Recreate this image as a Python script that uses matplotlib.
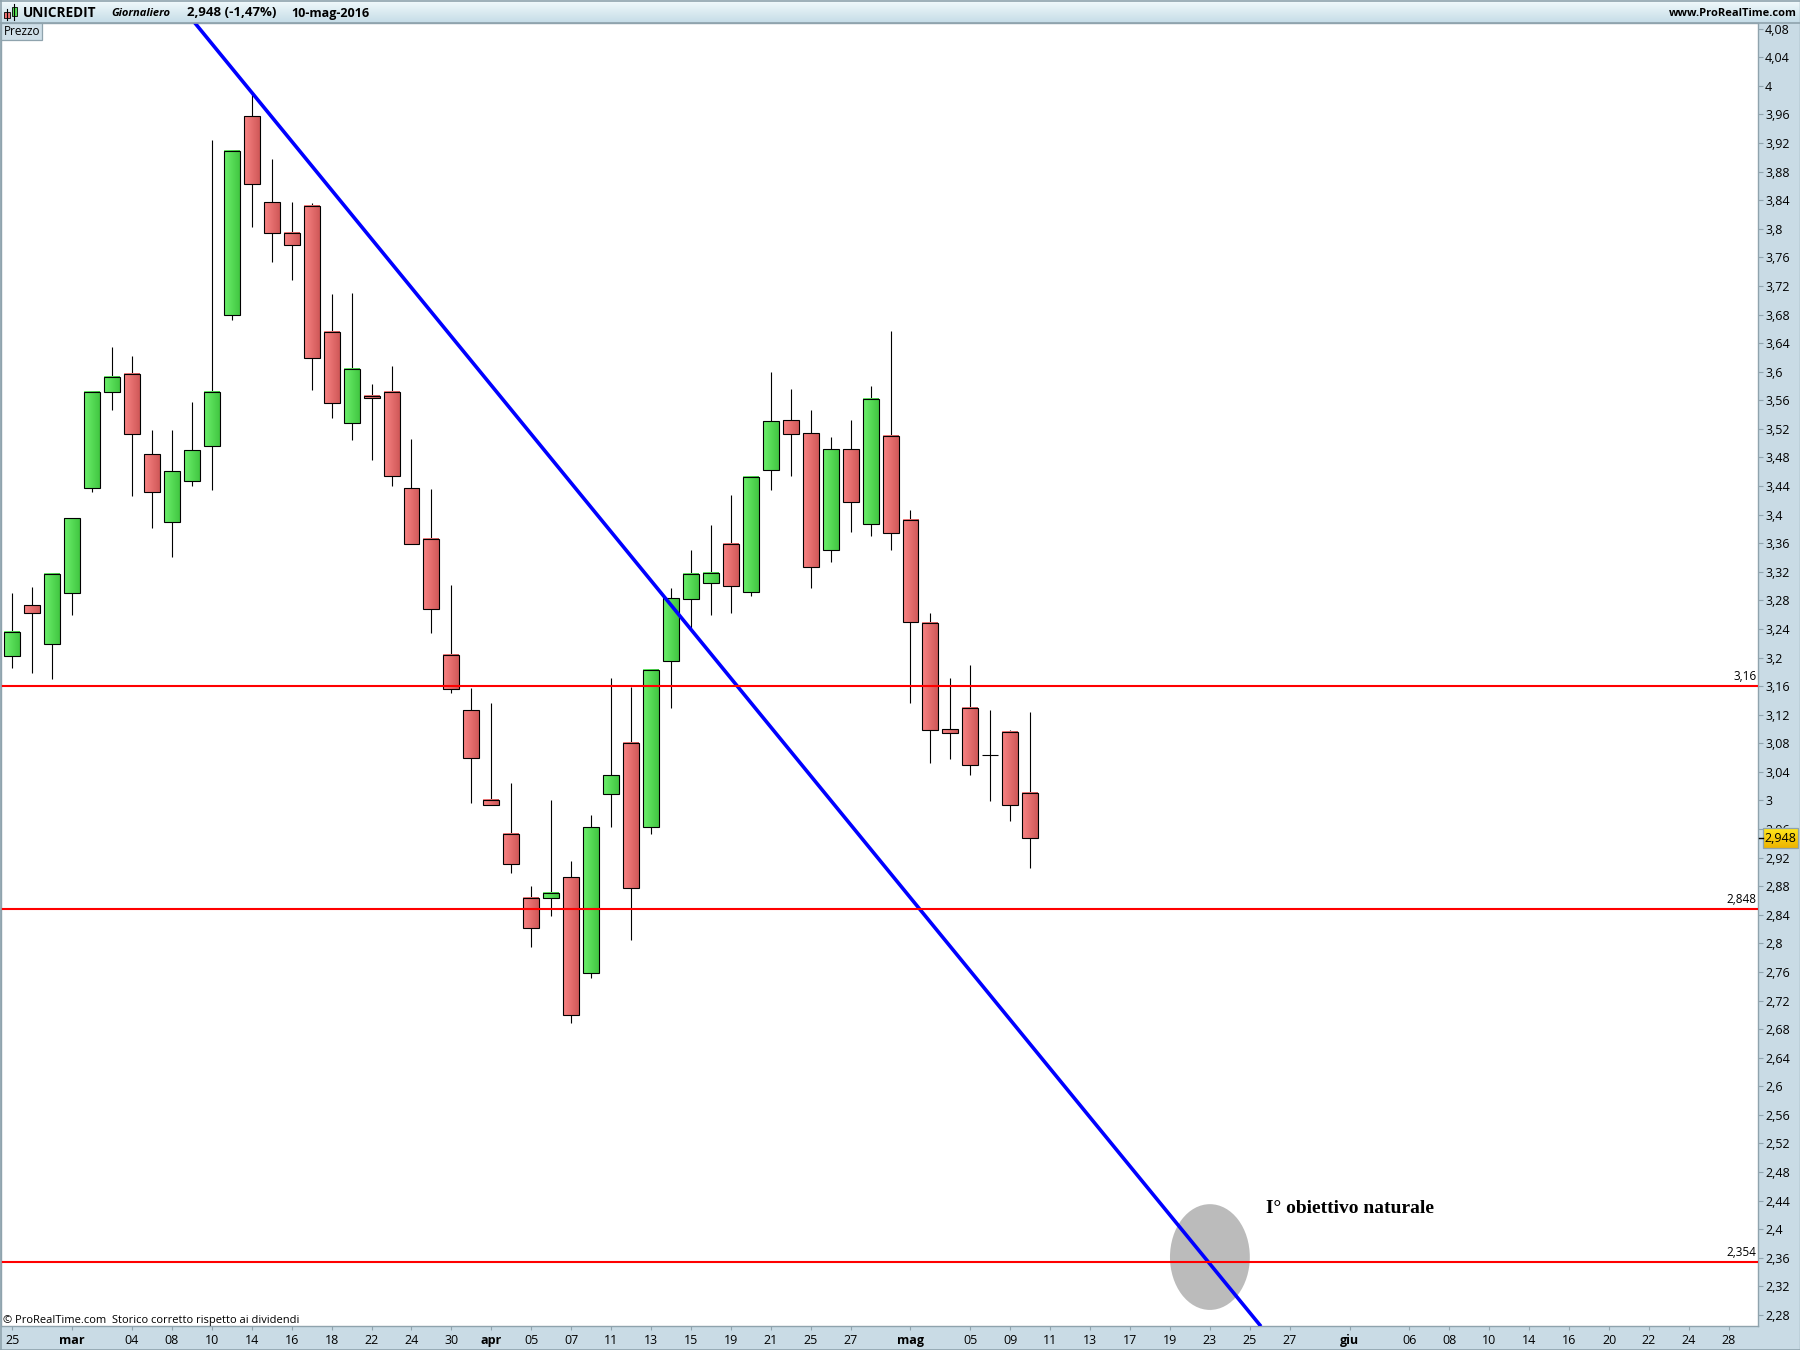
import numpy as np
from matplotlib import pyplot as plt
from matplotlib.patches import Ellipse, Rectangle

plt.rcParams['font.family'] = ['Open Sans', 'DejaVu Sans']

# daily candles (25 feb - 10 mag 2016)
opens = [3.202, 3.274, 3.219, 3.291, 3.437, 3.572, 3.597, 3.485, 3.390, 3.447,
         3.496, 3.679, 3.958, 3.837, 3.794, 3.832, 3.656, 3.528, 3.566, 3.572,
         3.437, 3.366, 3.204, 3.127, 3.001, 2.953, 2.864, 2.864, 2.893, 2.759,
         3.009, 3.081, 2.963, 3.195, 3.282, 3.304, 3.359, 3.292, 3.463, 3.532,
         3.514, 3.351, 3.492, 3.387, 3.510, 3.393, 3.249, 3.100, 3.130, 3.064,
         3.096, 3.011]
highs = [3.290, 3.299, 3.318, 3.395, 3.572, 3.635, 3.622, 3.519, 3.519, 3.557,
         3.924, 3.909, 3.989, 3.898, 3.838, 3.836, 3.709, 3.710, 3.583, 3.608,
         3.506, 3.436, 3.301, 3.157, 3.137, 3.025, 2.880, 3.000, 2.915, 2.980,
         3.172, 3.159, 3.183, 3.298, 3.351, 3.385, 3.427, 3.453, 3.599, 3.576,
         3.547, 3.509, 3.533, 3.580, 3.657, 3.407, 3.263, 3.171, 3.189, 3.127,
         3.099, 3.124]
lows = [3.185, 3.178, 3.170, 3.259, 3.431, 3.547, 3.426, 3.381, 3.340, 3.440,
        3.435, 3.672, 3.802, 3.754, 3.728, 3.575, 3.535, 3.505, 3.476, 3.440,
        3.359, 3.235, 3.151, 2.997, 2.993, 2.898, 2.795, 2.838, 2.689, 2.751,
        2.963, 2.805, 2.953, 3.129, 3.241, 3.259, 3.262, 3.286, 3.434, 3.454,
        3.298, 3.333, 3.375, 3.370, 3.351, 3.136, 3.052, 3.058, 3.035, 2.999,
        2.971, 2.905]
closes = [3.236, 3.263, 3.317, 3.395, 3.572, 3.593, 3.513, 3.432, 3.461, 3.490,
          3.572, 3.909, 3.863, 3.794, 3.777, 3.619, 3.556, 3.604, 3.563, 3.454,
          3.359, 3.268, 3.156, 3.060, 2.993, 2.911, 2.822, 2.871, 2.700, 2.963,
          3.035, 2.878, 3.183, 3.283, 3.317, 3.318, 3.300, 3.453, 3.531, 3.513,
          3.327, 3.492, 3.418, 3.562, 3.374, 3.250, 3.099, 3.095, 3.050, 3.064,
          2.993, 2.948]

levels = [3.16, 2.848, 2.354]
level_labels = ['3,16', '2,848', '2,354']
trend_x = [9.15, 62.5]
trend_y = [4.088, 2.266]
target_x = 60.0
target_y = 2.361

y_ticks = [4.08, 4.04, 4.0, 3.96, 3.92, 3.88, 3.84, 3.8, 3.76, 3.72, 3.68, 3.64, 3.6,
           3.56, 3.52, 3.48, 3.44, 3.4, 3.36, 3.32, 3.28, 3.24, 3.2, 3.16, 3.12, 3.08,
           3.04, 3.0, 2.96, 2.92, 2.88, 2.84, 2.8, 2.76, 2.72, 2.68, 2.64, 2.6, 2.56,
           2.52, 2.48, 2.44, 2.4, 2.36, 2.32, 2.28]
x_ticks = [0, 3, 6, 8, 10, 12, 14, 16, 18, 20, 22, 24, 26, 28, 30, 32, 34, 36, 38, 40, 42,
           45, 48, 50, 52, 54, 56, 58, 60, 62, 64, 67, 70, 72, 74, 76, 78, 80, 82, 84, 86]
x_labels = ['25', 'mar', '04', '08', '10', '14', '16', '18', '22', '24', '30', 'apr',
            '05', '07', '11', '13', '15', '19', '21', '25', '27', 'mag', '05', '09',
            '11', '13', '17', '19', '23', '25', '27', 'giu', '06', '08', '10', '14',
            '16', '20', '22', '24', '28']
months = ['mar', 'apr', 'mag', 'giu']

PANEL = '#c9dbe5'
BORDER = '#8fa3ad'


def gradient(left, right):
    """One row RGB image going from left colour to right colour"""
    left = np.array(plt.matplotlib.colors.to_rgb(left))
    right = np.array(plt.matplotlib.colors.to_rgb(right))
    t = np.linspace(0, 1, 32)[:, None]
    return (left + (right - left) * t)[None, :, :]


green_grad = gradient('#6cf16c', '#42c642')
red_grad = gradient('#f98484', '#d05858')

fig = plt.figure(figsize=(18, 13.5), dpi=100, facecolor=PANEL)
ax = fig.add_axes([1 / 1800, 24 / 1350, 1757 / 1800, 1303 / 1350])

x = np.arange(len(opens))
o = np.array(opens)
c = np.array(closes)
body_low = np.minimum(o, c)
body_high = np.maximum(o, c)
width = 0.8

ax.vlines(x, lows, highs, color='k', lw=0.8, zorder=2)
# gradient fill first, then the black outline from the same bars
for i in x:
    if body_high[i] > body_low[i]:
        img = green_grad if c[i] > o[i] else red_grad
        ax.imshow(img, extent=[i - width / 2, i + width / 2, body_low[i], body_high[i]],
                  aspect='auto', interpolation='bilinear', zorder=3)
ax.bar(x, body_high - body_low, bottom=body_low, width=width, fill=False,
       edgecolor='k', lw=0.8, zorder=4)

ax.add_patch(Ellipse((target_x, target_y), 4.0, 0.148, facecolor='#bbbbbb',
                     edgecolor='none', zorder=1))
ax.plot(trend_x, trend_y, color='#0000ff', lw=2.6, zorder=5)
for level, label in zip(levels, level_labels):
    ax.axhline(level, color='#ff0000', lw=1.5, zorder=6)
    ax.annotate(label, (1, level), xycoords=('axes fraction', 'data'), xytext=(-1, 2),
                textcoords='offset points', ha='right', va='bottom', fontsize=8.5)
ax.text(62.8, 2.429, 'I° obiettivo naturale', family='Liberation Serif', weight='bold',
        fontsize=14, va='center', ha='left', zorder=7)

ax.set_xlim(-0.566, 87.46)
ax.set_ylim(2.2645, 4.088)
ax.yaxis.tick_right()
ax.set_yticks(y_ticks)
ax.set_yticklabels([('%g' % t).replace('.', ',') for t in y_ticks], fontsize=9)
ax.set_xticks(x_ticks)
ax.set_xticklabels(x_labels, fontsize=9)
for tick_label in ax.get_xticklabels():
    if tick_label.get_text() in months:
        tick_label.set_fontweight('bold')
ax.tick_params(axis='y', length=3.6, width=0.8, color=BORDER, pad=1.5)
ax.tick_params(axis='x', length=3, width=0.8, color=BORDER, pad=2.5)
for spine in ax.spines.values():
    spine.set_color(BORDER)
    spine.set_linewidth(1.0)

# everything around the chart is placed in pixels on an overlay
ov = fig.add_axes([0, 0, 1, 1], zorder=10)
ov.set_xlim(0, 1800)
ov.set_ylim(1350, 0)
ov.axis('off')

header = np.linspace(0, 1, 23)[:, None, None] * (np.array([0.78, 0.87, 0.91]) - np.array([0.95, 0.98, 0.99])) \
    + np.array([0.95, 0.98, 0.99])
ov.imshow(header, extent=[0, 1800, 22, 0], aspect='auto', interpolation='bilinear')
ov.plot([0, 1800], [22.5, 22.5], color=BORDER, lw=1.2)
ov.plot([0, 1800], [0.5, 0.5], color=BORDER, lw=1.2)
ov.plot([0.8, 0.8], [0, 1350], color=BORDER, lw=1.2)
ov.plot([1799.5, 1799.5], [0, 1350], color=BORDER, lw=1.0)
ov.plot([0, 1800], [1349.5, 1349.5], color=BORDER, lw=1.2)

# little candle icon in the title bar
ov.plot([7, 7], [9, 20], color='k', lw=0.8)
ov.add_patch(Rectangle((4, 12), 6, 6, facecolor='#ee7070', edgecolor='k', lw=0.6))
ov.plot([14, 14], [4, 20], color='k', lw=0.8)
ov.add_patch(Rectangle((11.5, 7), 5.5, 9, facecolor='#55dd55', edgecolor='k', lw=0.6))

bar_font = dict(weight='bold', va='center', ha='left')
ov.text(23, 13, 'UNICREDIT', fontsize=9.8, **bar_font)
ov.text(111, 13, 'Giornaliero', fontsize=8, style='italic', **bar_font)
ov.text(187, 13, '2,948 (-1,47%)', fontsize=9.5, **bar_font)
ov.text(291, 13, '10-mag-2016', fontsize=9, **bar_font)
ov.text(1797, 13, 'www.ProRealTime.com', fontsize=8, weight='bold', va='center', ha='right')

ov.add_patch(Rectangle((1, 23), 40.5, 16.5, facecolor='#cfdfe8', edgecolor=BORDER, lw=0.9))
ov.text(3.5, 31.5, 'Prezzo', fontsize=8.5, va='center', ha='left')
ov.text(3, 1320, '© ProRealTime.com  Storico corretto rispetto ai dividendi', fontsize=8,
        va='center', ha='left')

# last price tag on the right scale
tag = gradient('#ffe61c', '#eeb400').transpose(1, 0, 2)
ov.imshow(tag, extent=[1763, 1798, 848, 828], aspect='auto', interpolation='bilinear')
ov.add_patch(Rectangle((1763, 828), 35, 20, facecolor='none', edgecolor=BORDER, lw=0.9))
ov.plot([1759, 1763], [838, 838], color='k', lw=1.0)
ov.text(1780.5, 838.5, '2,948', fontsize=9, va='center', ha='center')
ov.set_xlim(0, 1800)
ov.set_ylim(1350, 0)

fig.savefig('out.png', dpi=100, facecolor=fig.get_facecolor())
